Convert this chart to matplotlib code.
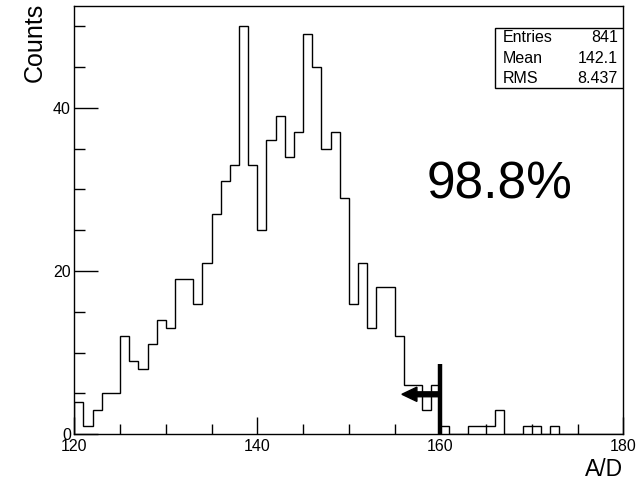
import numpy as np
import matplotlib
matplotlib.use("Agg")
import matplotlib.pyplot as plt
from matplotlib.patches import FancyArrow, Rectangle
from matplotlib.ticker import MultipleLocator

# -------------------------------------------------------------------------------------
# Data (1 count/bin width)
bin_edges = np.arange(120, 181, 1)
counts = [4, 1, 3, 5, 5, 12, 9, 8, 11, 14,
          13, 19, 19, 16, 21, 27, 31, 33, 50, 33,
          25, 36, 39, 34, 37, 49, 45, 35, 37, 29,
          16, 21, 13, 18, 18, 12, 6, 6, 3, 6,
          1, 0, 0, 1, 1, 1, 3, 0, 0, 1,
          1, 0, 1, 0, 0, 0, 0, 0, 0, 0]
stat_names = ["Entries", "Mean", "RMS"]
stat_values = ["841", "142.1", "8.437"]
cut_value = 160
efficiency_label = "98.8%"
x_title = "A/D"
y_title = "Counts"
# -------------------------------------------------------------------------------------

plt.rcParams['font.family'] = ['Liberation Sans', 'DejaVu Sans']

fig = plt.figure(figsize=(6.38, 4.86), dpi=100)
ax = fig.add_axes([0.1165, 0.1064, 0.8605, 0.8819])

# histogram outline
ax.stairs(counts, bin_edges, color='black', linewidth=1.0, baseline=0)

ax.set_xlim(120, 180)
ax.set_ylim(0, 1.05 * max(counts))

# ROOT style axes
ax.xaxis.set_major_locator(MultipleLocator(20))
ax.xaxis.set_minor_locator(MultipleLocator(5))
ax.yaxis.set_major_locator(MultipleLocator(20))
ax.yaxis.set_minor_locator(MultipleLocator(5))
ax.tick_params(axis='x', which='major', direction='in', length=12, width=1, pad=3.5, labelsize=11.5)
ax.tick_params(axis='x', which='minor', direction='in', length=7, width=1)
ax.tick_params(axis='y', which='major', direction='in', length=17, width=1, pad=2.5, labelsize=11.5)
ax.tick_params(axis='y', which='minor', direction='in', length=8, width=1)
ax.tick_params(top=False, right=False, which='both')
for sp in ax.spines.values():
    sp.set_linewidth(1.0)

# axis titles (right/top aligned like ROOT)
ax.text(1.0, -0.098, x_title, transform=ax.transAxes, ha='right', va='baseline',
        fontsize=16.5)
fig.text(42 / 638, 1 - 3 / 486, y_title, rotation=90, rotation_mode='anchor',
         ha='right', va='baseline', fontsize=18)

# stats box
ax.add_patch(Rectangle((0.766, 0.807), 0.234, 0.14, transform=ax.transAxes,
                       facecolor='white', edgecolor='black', linewidth=1.0, zorder=5))
row_y = [0.9247, 0.8757, 0.829]
for name, val, yy in zip(stat_names, stat_values, row_y):
    ax.text(0.780, yy, name, transform=ax.transAxes, ha='left', va='center',
            fontsize=11.5, zorder=6)
    ax.text(0.990, yy, val, transform=ax.transAxes, ha='right', va='center',
            fontsize=11.5, zorder=6)

# cut marker and arrow
ax.plot([cut_value, cut_value], [0, 8.6], color='black', linewidth=3.2,
        solid_capstyle='butt', zorder=4)
ax.add_patch(FancyArrow(cut_value, 4.9, -4.2, 0, width=0.6, head_width=1.75,
                        head_length=1.64, length_includes_head=True,
                        color='black', zorder=4))

# efficiency label
ax.text(158.5, 28.9, efficiency_label, ha='left', va='baseline', fontsize=37)

fig.savefig("out.png", dpi=100)
